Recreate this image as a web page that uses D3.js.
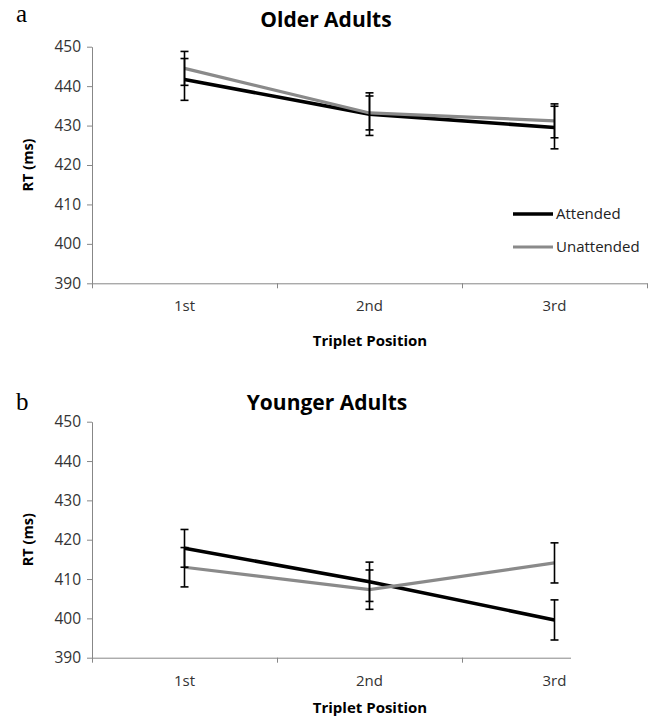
<!DOCTYPE html>
<html lang="en">
<head>
<meta charset="utf-8">
<title>RT by Triplet Position</title>
<script src="https://d3js.org/d3.v7.min.js"></script>
<style>
  body { margin: 0; background: #fff; }
  svg text { font-family: "Open Sans", sans-serif; }
</style>
</head>
<body>
<div class="chart"></div>
<script>
// data
const positions = ["1st", "2nd", "3rd"];
const yTicks = [390, 400, 410, 420, 430, 440, 450];
const seriesNames = ["Attended", "Unattended"];

const olderAttended = [441.7, 432.9, 429.5];
const olderAttendedErr = [5.3, 5.4, 5.4];
const olderUnattended = [444.5, 433.2, 431.2];
const olderUnattendedErr = [4.3, 4.3, 4.3];

const youngerAttended = [417.8, 409.3, 399.6];
const youngerAttendedErr = [4.8, 5.0, 5.1];
const youngerUnattended = [413.0, 407.3, 414.1];
const youngerUnattendedErr = [5.0, 5.0, 5.1];

const colors = {Attended: "#000000", Unattended: "#8a8a8a"};
const widths = {Attended: 3.6, Unattended: 3.2};

const W = 659, H = 721;
const svg = d3.select(".chart").append("svg")
    .attr("width", W)
    .attr("height", H);

const x = d3.scaleBand().domain(positions).range([92, 647]);

function panel(opt) {
    const g = svg.append("g");
    const y = d3.scaleLinear().domain([390, 450]).range([opt.bottom, opt.top]);
    if (opt.clip) {
        svg.append("clipPath").attr("id", opt.clip)
            .append("rect").attr("x", 0).attr("y", 0).attr("width", opt.clipX).attr("height", H);
        g.attr("clip-path", `url(#${opt.clip})`);
    }

    // y axis
    const yAxis = g.append("g")
        .attr("transform", `translate(${x.range()[0]},0)`)
        .call(d3.axisLeft(y).tickValues(yTicks).tickSize(5).tickSizeOuter(0).tickPadding(6));
    yAxis.selectAll("line, path").attr("stroke", "#878787");
    yAxis.selectAll("text").attr("font-size", "15.5px").attr("fill", "#333")
        .style("font-family", "'Open Sans', sans-serif");

    // x axis with ticks at category boundaries
    const xb = d3.scaleLinear().domain([0, 3]).range(x.range());
    const xAxis = g.append("g")
        .attr("transform", `translate(0,${opt.bottom})`)
        .call(d3.axisBottom(xb).tickValues([0, 1, 2, 3]).tickSize(5).tickSizeOuter(0).tickFormat(""));
    xAxis.selectAll("line, path").attr("stroke", "#878787");

    g.selectAll(".xlab")
        .data(positions)
        .enter().append("text")
        .attr("x", d => x(d) + x.bandwidth() / 2)
        .attr("y", opt.bottom + 28)
        .attr("text-anchor", "middle")
        .attr("font-size", "15px")
        .attr("fill", "#333")
        .text(d => d);

    // lines
    const line = d3.line()
        .x((d, i) => x(positions[i]) + x.bandwidth() / 2)
        .y(d => y(d));

    opt.series.forEach(s => {
        g.append("path")
            .datum(s.values)
            .attr("fill", "none")
            .attr("stroke", colors[s.name])
            .attr("stroke-width", widths[s.name])
            .attr("d", line);
    });

    // error bars
    opt.series.forEach(s => {
        s.values.forEach((v, i) => {
            const cx = x(positions[i]) + x.bandwidth() / 2;
            const e = s.err[i];
            g.append("line")
                .attr("x1", cx).attr("x2", cx)
                .attr("y1", y(v - e)).attr("y2", y(v + e))
                .attr("stroke", "#000").attr("stroke-width", 1.6);
            [v - e, v + e].forEach(t => {
                g.append("line")
                    .attr("x1", cx - 4).attr("x2", cx + 4)
                    .attr("y1", y(t)).attr("y2", y(t))
                    .attr("stroke", "#000").attr("stroke-width", 1.6);
            });
        });
    });

    // titles
    svg.append("text")
        .attr("x", opt.titleX)
        .attr("y", opt.titleY)
        .attr("text-anchor", "middle")
        .attr("font-size", "21px")
        .attr("font-weight", "bold")
        .text(opt.title);

    svg.append("text")
        .attr("x", 370)
        .attr("y", opt.axisTitleY)
        .attr("text-anchor", "middle")
        .attr("font-size", "15px")
        .attr("font-weight", "bold")
        .text("Triplet Position");

    svg.append("text")
        .attr("transform", `translate(33,${(opt.top + opt.bottom) / 2}) rotate(-90)`)
        .attr("text-anchor", "middle")
        .attr("font-size", "14.5px")
        .attr("font-weight", "bold")
        .text("RT (ms)");

    svg.append("text")
        .attr("x", 16)
        .attr("y", opt.letterY)
        .attr("font-size", "25px")
        .style("font-family", "'Liberation Serif', serif")
        .text(opt.letter);

    return y;
}

panel({
    top: 46.7, bottom: 283.3, title: "Older Adults", titleX: 326, titleY: 27,
    axisTitleY: 346, letter: "a", letterY: 22,
    series: [
        {name: "Attended", values: olderAttended, err: olderAttendedErr},
        {name: "Unattended", values: olderUnattended, err: olderUnattendedErr}
    ]
});

panel({
    top: 421.7, bottom: 657.7, title: "Younger Adults", titleX: 327, titleY: 410,
    axisTitleY: 713, letter: "b", letterY: 410,
    clip: "clipB", clipX: 571,
    series: [
        {name: "Attended", values: youngerAttended, err: youngerAttendedErr},
        {name: "Unattended", values: youngerUnattended, err: youngerUnattendedErr}
    ]
});

// legend (top panel only)
const legend = svg.selectAll(".legend")
    .data(seriesNames)
    .enter().append("g")
    .attr("transform", (d, i) => `translate(513,${214 + i * 33})`);

legend.append("line")
    .attr("x1", 0).attr("x2", 40)
    .attr("stroke", d => colors[d])
    .attr("stroke-width", d => widths[d]);

legend.append("text")
    .attr("x", 43)
    .attr("y", 5)
    .attr("font-size", "15px")
    .attr("fill", "#222")
    .text(d => d);
</script>
</body>
</html>
